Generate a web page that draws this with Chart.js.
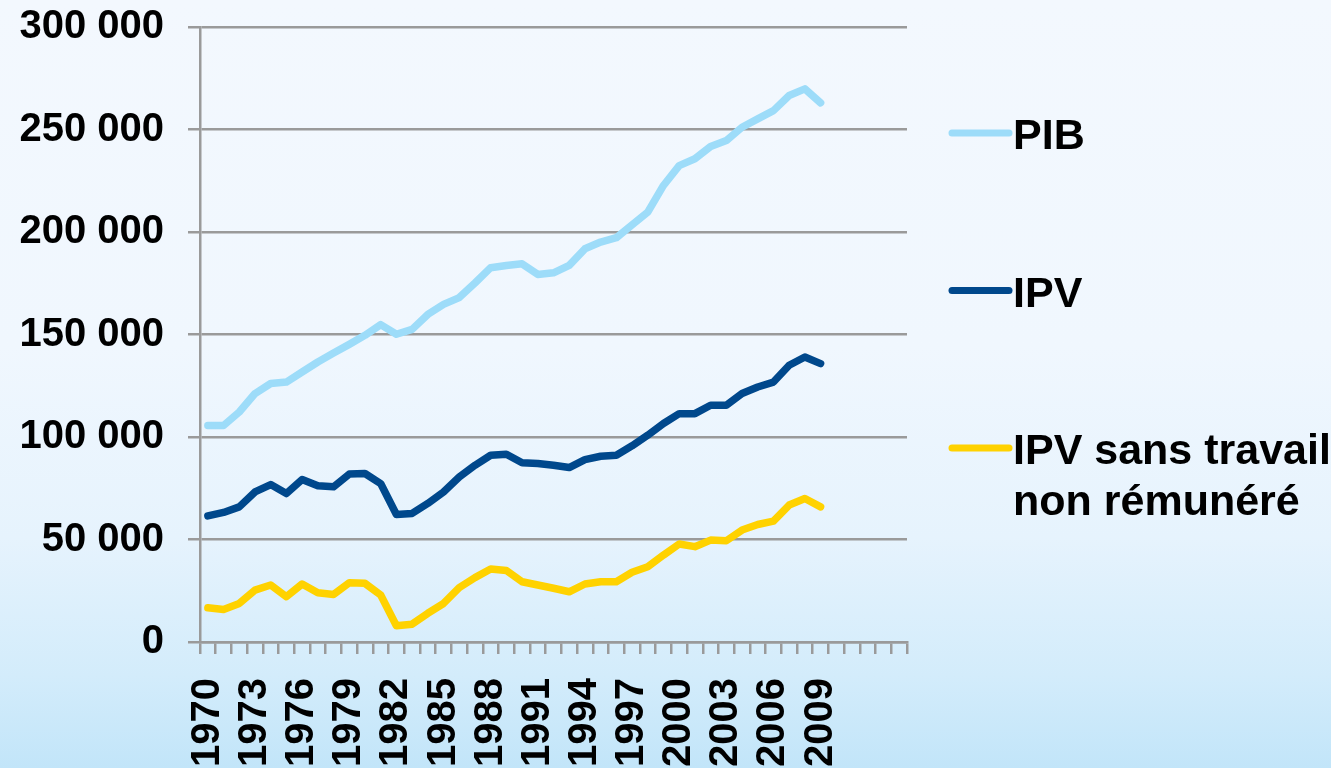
<!DOCTYPE html>
<html lang="fr">
<head>
<meta charset="utf-8">
<title>PIB et IPV</title>
<script src="https://cdn.jsdelivr.net/npm/chart.js@4/dist/chart.umd.min.js"></script>
<style>
    html, body {
        margin: 0;
        padding: 0;
        width: 1331px;
        height: 768px;
        overflow: hidden;
    }
    body {
        background: linear-gradient(to bottom, #f3f8fe 0%, #f0f7fe 45%, #e6f3fd 70%, #d3ecfb 88%, #c2e5f9 100%);
    }
    #wrap {
        position: relative;
        width: 1331px;
        height: 768px;
    }
    #chart {
        display: block;
    }
</style>
</head>
<body>
<div id="wrap"><canvas id="chart" width="1331" height="768"></canvas></div>
<script>
// categories (empty slots at the end, as in the original axis)
const years = [
    1970, 1971, 1972, 1973, 1974, 1975, 1976, 1977, 1978, 1979,
    1980, 1981, 1982, 1983, 1984, 1985, 1986, 1987, 1988, 1989,
    1990, 1991, 1992, 1993, 1994, 1995, 1996, 1997, 1998, 1999,
    2000, 2001, 2002, 2003, 2004, 2005, 2006, 2007, 2008, 2009,
    "", "", "", "", ""
];

const pib = [
    105600, 105600, 112200, 121200, 126100, 126800, 131700, 136600, 141000, 145200,
    149600, 154800, 150100, 152500, 159800, 164700, 168000, 175100, 182600, 183700,
    184500, 179300, 180100, 183700, 191800, 195100, 197200, 203500, 209700, 222700,
    232400, 235700, 241700, 244600, 251100, 255200, 259200, 266600, 269800, 263000
];

const ipv = [
    61500, 63200, 65900, 73200, 76800, 72400, 79300, 76200, 75700, 81900,
    82200, 77300, 62200, 62700, 67600, 73200, 80500, 86200, 91100, 91600,
    87400, 87100, 86200, 85100, 89000, 90600, 91100, 95700, 100900, 106600,
    111400, 111400, 115500, 115500, 121200, 124400, 126800, 135000, 139000, 135800
];

const ipvSansTravail = [
    16700, 15900, 18800, 25300, 27800, 22100, 28300, 24000, 23200, 28900,
    28600, 22900, 7900, 8700, 14000, 18800, 26500, 31400, 35600, 34900,
    29400, 27800, 26200, 24500, 28300, 29400, 29400, 34000, 36700, 42400,
    47800, 46500, 49700, 49400, 54600, 57300, 59000, 66800, 70000, 65900
];

const yTicks = [0, 50000, 100000, 150000, 200000, 250000, 300000];

const gridGrey = "#9a9a9a";
const labelFont = { family: "'Liberation Sans', Arial, sans-serif", size: 40, weight: "bold" };

function formatThousands(v) {
    return String(v).replace(/\B(?=(\d{3})+(?!\d))/g, " ");
}

// legend drawn by hand: the last label runs on two lines
const sideLegend = {
    id: "sideLegend",
    afterDraw(chart) {
        const ctx = chart.ctx;
        const area = chart.chartArea;
        const x0 = area.right + 45;
        const lineLen = 57;
        const firstY = 133;
        const step = 157.5;
        ctx.save();
        ctx.font = "bold 43px 'Liberation Sans', Arial, sans-serif";
        ctx.fillStyle = "#000";
        ctx.textAlign = "left";
        ctx.textBaseline = "alphabetic";
        chart.data.datasets.forEach((ds, i) => {
            const y = firstY + i * step;
            ctx.strokeStyle = ds.borderColor;
            ctx.lineWidth = 7;
            ctx.lineCap = "round";
            ctx.beginPath();
            ctx.moveTo(x0, y);
            ctx.lineTo(x0 + lineLen, y);
            ctx.stroke();
            ds.label.split("\n").forEach((line, j) => {
                ctx.fillText(line, x0 + lineLen + 4, y + 16 + j * 51);
            });
        });
        ctx.restore();
    }
};

function lineSet(label, data, color) {
    return {
        label: label,
        data: data,
        borderColor: color,
        backgroundColor: color,
        borderWidth: 7.5,
        borderCapStyle: "round",
        borderJoinStyle: "round",
        pointRadius: 0,
        pointHoverRadius: 0,
        tension: 0,
        fill: false
    };
}

const chart = new Chart(document.getElementById("chart"), {
    type: "line",
    data: {
        labels: years,
        datasets: [
            lineSet("PIB", pib, "#9ddcf9"),
            lineSet("IPV", ipv, "#00488c"),
            lineSet("IPV sans travail\nnon rémunéré", ipvSansTravail, "#ffd200")
        ]
    },
    plugins: [sideLegend],
    options: {
        responsive: false,
        maintainAspectRatio: false,
        animation: false,
        devicePixelRatio: 1,
        layout: {
            padding: { top: 27, right: 424, bottom: 0, left: 0 }
        },
        plugins: {
            legend: { display: false },
            tooltip: { enabled: false }
        },
        scales: {
            x: {
                type: "category",
                offset: true,
                afterFit: scale => {
                    scale.height = 126;
                    scale.paddingLeft = 0;
                    scale.paddingRight = 0;
                },
                grid: {
                    display: true,
                    offset: true,
                    drawOnChartArea: false,
                    drawTicks: true,
                    tickLength: 12,
                    color: gridGrey,
                    lineWidth: 2.5
                },
                border: { display: true, color: gridGrey, width: 2.5 },
                ticks: {
                    autoSkip: false,
                    minRotation: 90,
                    maxRotation: 90,
                    padding: 24,
                    color: "#000",
                    font: labelFont,
                    callback: function (value, index) {
                        const lab = years[index];
                        return (lab !== "" && index % 3 === 0) ? String(lab) : "";
                    }
                }
            },
            y: {
                min: 0,
                max: 300000,
                afterFit: scale => {
                    scale.width = 200;
                    scale.paddingTop = 0;
                    scale.paddingBottom = 0;
                },
                afterBuildTicks: scale => { scale.ticks = yTicks.map(v => ({ value: v })); },
                grid: {
                    color: gridGrey,
                    lineWidth: 2.5,
                    drawTicks: true,
                    tickLength: 12
                },
                border: { display: true, color: gridGrey, width: 2.5 },
                ticks: {
                    padding: 24,
                    color: "#000",
                    font: labelFont,
                    callback: v => formatThousands(v)
                }
            }
        }
    }
});
</script>
</body>
</html>
